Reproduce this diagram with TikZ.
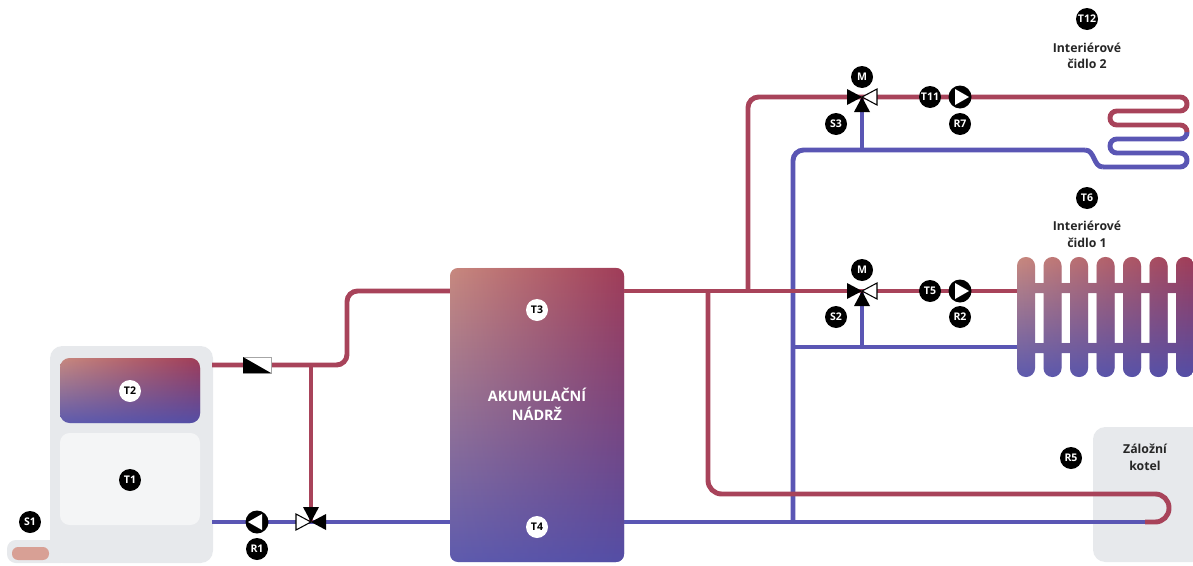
\documentclass[tikz,border=0pt]{standalone}
\usepackage{fontspec}
\setmainfont{Open Sans}
\usetikzlibrary{fadings}

\definecolor{hotred}{HTML}{A8435A}
\definecolor{coldblue}{HTML}{5A56B4}
\definecolor{unitgray}{HTML}{E7E9EC}
\definecolor{panelgray}{HTML}{F4F5F6}
\definecolor{heaterpink}{HTML}{D8A095}
% gradient: left edge and right edge profiles
\definecolor{lsal}{HTML}{C8897F}
\definecolor{llav}{HTML}{8C8FC8}
\definecolor{lblu}{HTML}{5E5BAE}
\definecolor{rwine}{HTML}{A03C58}
\definecolor{rmid}{HTML}{74498F}
\definecolor{rblu}{HTML}{544EA6}
\tikzfading[name=fadeleft, left color=transparent!100, right color=transparent!0]

\tikzset{
  hot/.style={draw=hotred, line width=2.8pt},
  cold/.style={draw=coldblue, line width=2.8pt},
  badge/.style={circle, fill=black, text=white, inner sep=0pt, minimum size=0.44cm,
    font=\bfseries\fontsize{6}{6}\selectfont},
  wbadge/.style={badge, fill=white, text=black},
  caption/.style={align=center, text=black!85, font=\bfseries\fontsize{7}{9.5}\selectfont},
  pump/.pic={
    \fill (0,0) circle (11.5);
    \fill[white] (9,0) -- (-5,-8) -- (-5,8) -- cycle;
  },
  % mixing valve, motor on top
  mixvalve/.pic={
    \fill (0,0) -- (-15,-8) -- (-15,8) -- cycle;
    \filldraw[fill=white, line width=0.6pt] (0,0) -- (15,-8) -- (15,8) -- cycle;
    \fill (0,0) -- (-8,15) -- (8,15) -- cycle;
  },
  % diverting valve at the boiler return
  divvalve/.pic={
    \filldraw[fill=white, line width=0.6pt] (0,0) -- (-15,-8) -- (-15,8) -- cycle;
    \fill (0,0) -- (15,-8) -- (15,8) -- cycle;
    \fill (0,0) -- (-8,-15) -- (8,-15) -- cycle;
  },
}

% warm-to-cold fill of a closed path
\newcommand\warmcold[1]{%
  \shade[top color=lsal, middle color=llav, bottom color=lblu] #1;
  \shade[top color=rwine, middle color=rmid, bottom color=rblu, path fading=fadeleft] #1;
}

\begin{document}
\begin{tikzpicture}[x=0.02cm,y=-0.02cm]
\clip (0,0) rectangle (1193,565);

% ports and fittings
\coordinate (boilHot) at (212,365);
\coordinate (boilCold) at (212,522);
\coordinate (chk) at (257,365);
\coordinate (pR1) at (257,522);
\coordinate (vR1) at (311,522);
\coordinate (tankNW) at (450,291);
\coordinate (tankSW) at (450,522);
\coordinate (tankNE) at (624,291);
\coordinate (tankSE) at (624,522);
\coordinate (vS3) at (862,97);
\coordinate (vS2) at (862,291);
\coordinate (pR7) at (960,97);
\coordinate (pR2) at (960,291);
\coordinate (radHot) at (1018,291);
\coordinate (radCold) at (1018,347);

% solid fuel boiler
\fill[unitgray, rounded corners=7pt] (50,346) rectangle (213,563);
\fill[unitgray, rounded corners=5pt] (7,540) rectangle (70,563);
\fill[heaterpink, rounded corners=3.5pt] (12,547) rectangle (49,560);
\warmcold{[rounded corners=5.5pt] (60,358) rectangle (200,423)}
\fill[panelgray, rounded corners=5.5pt] (60,433) rectangle (200,525);

% backup boiler
\fill[unitgray, rounded corners=7pt] (1093,427) rectangle (1210,562);

% return pipes
\draw[cold] (boilCold) -- (pR1) -- (vR1) -- (tankSW);
\draw[cold] (tankSE) -- (1150,522);
\draw[cold] (793,347) -- (radCold);
\draw[cold] (vS2) -- (862,347);
\draw[cold] (vS3) -- (862,150);
\draw[cold, rounded corners=3.9pt] (1187,132) -- (1187,139) -- (1110,139) -- (1110,153)
  -- (1187,153) -- (1187,167) -- (1103,167);
\draw[cold] (1103,167) .. controls (1093,167) and (1095,150) .. (1085,150);
\draw[cold, rounded corners=6pt] (1085,150) -| (793,522);

% flow pipes
\draw[hot, rounded corners=6pt] (boilHot) -- (347,365) |- (tankNW);
\draw[hot] (311,365) -- (vR1);
\draw[hot] (tankNE) -- (vS2) -- (pR2) -- (radHot);
\draw[hot, rounded corners=6pt] (748,291) |- (vS3);
\draw[hot, rounded corners=7.8pt] (708,291) -- (708,494) -- (1169,494) -- (1169,522) -- (1145,522);
\draw[hot, rounded corners=3.9pt] (vS3) -- (pR7) -- (1187,97) -- (1187,111) -- (1110,111)
  -- (1110,125) -- (1187,125) -- (1187,132);

% accumulation tank
\warmcold{[rounded corners=4.5pt] (450,268) rectangle (624,562)}
\node[text=white, align=center, font=\bfseries\fontsize{8.2}{10.8}\selectfont]
  (tankname) at (537,404) {AKUMULAČNÍ\\NÁDRŽ};

% radiator
\warmcold{[rounded corners=5pt] \foreach \i in {0,...,6} {(1017+26.5*\i,257) rectangle (1035+26.5*\i,377)}
  [sharp corners] (1017,283) rectangle (1193,293) (1017,343) rectangle (1193,353)}

% check valve
\filldraw[fill=white, draw=black!35, line width=0.5pt] (243,357) rectangle (271,373);
\fill (243,357) -- (243,373) -- (271,373) -- cycle;

% valves and pumps
\pic at (vR1) {divvalve};
\pic at (vS3) {mixvalve};
\pic at (vS2) {mixvalve};
\pic[rotate=180] at (pR1) {pump};
\pic at (pR7) {pump};
\pic at (pR2) {pump};

% sensors and labels
\node[badge] (S1) at (30,522) {S1};
\node[badge] (T1) at (130,480) {T1};
\node[wbadge] (T2) at (130,391) {T2};
\node[badge] (R1) at (257,549) {R1};
\node[wbadge] (T3) at (537,310) {T3};
\node[wbadge] (T4) at (537,527) {T4};
\node[badge] (M3) at (862,77) {M};
\node[badge] (S3) at (836,124) {S3};
\node[badge] (T11) at (930,97) {T11};
\node[badge] (R7) at (960,124) {R7};
\node[badge] (M2) at (862,270) {M};
\node[badge] (S2) at (836,317) {S2};
\node[badge] (T5) at (930,291) {T5};
\node[badge] (R2) at (960,317) {R2};
\node[badge] (T12) at (1087,19) {T12};
\node[caption] (room2) at (1087,56) {Interiérové\\čidlo 2};
\node[badge] (T6) at (1087,198) {T6};
\node[caption] (room1) at (1087,234) {Interiérové\\čidlo 1};
\node[badge] (R5) at (1071,458) {R5};
\node[caption] (backup) at (1145,457) {Záložní\\kotel};
\end{tikzpicture}
\end{document}
